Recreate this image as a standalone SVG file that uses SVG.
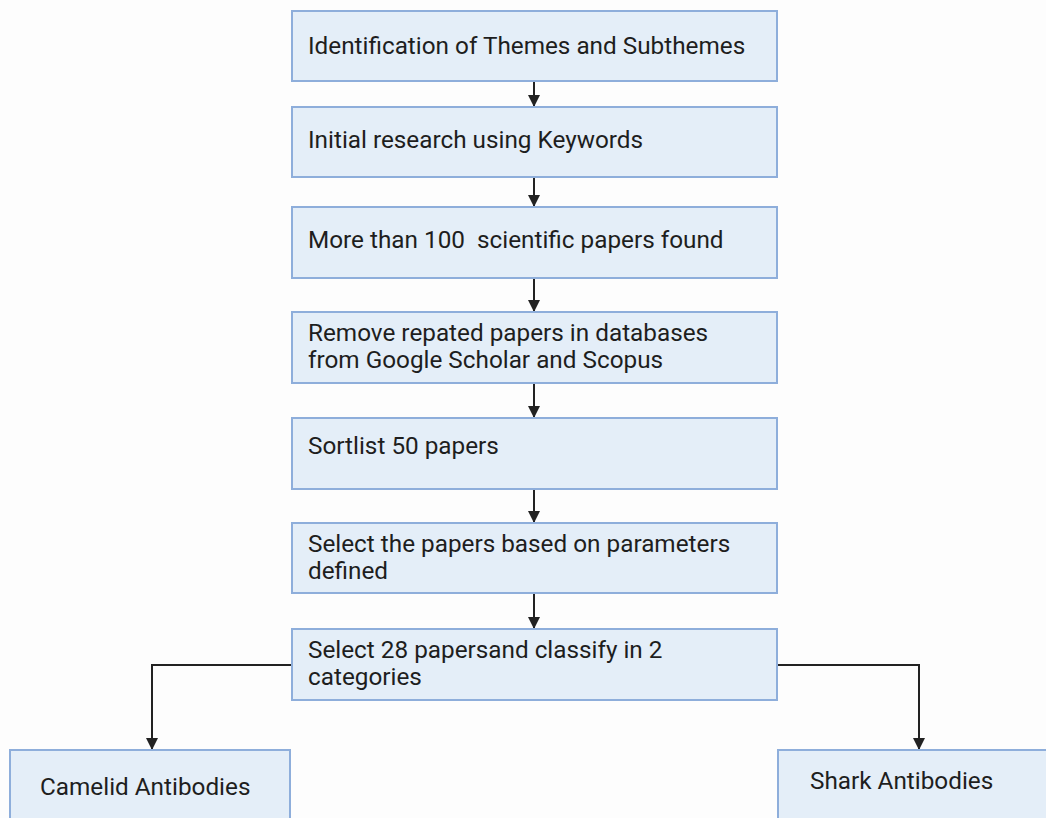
<svg xmlns="http://www.w3.org/2000/svg" width="1046" height="818" viewBox="0 0 1046 818">
<style>
.box{fill:#e4eef8;stroke:#8eaedb;stroke-width:2}
.t{font-family:Roboto,"Liberation Sans",sans-serif;font-size:24.3px;fill:#1e1e1e;white-space:pre}
.c{fill:none;stroke:#222;stroke-width:2}
</style>
<defs>
<marker id="ah" markerWidth="13" markerHeight="12" refX="12" refY="6" orient="auto" markerUnits="userSpaceOnUse">
<path d="M0,0 L12,6 L0,12 Z" fill="#222"/>
</marker>
</defs>
<rect width="1046" height="818" fill="#fdfdfd"/>
<g id="connectors">
<line class="c" x1="534" y1="81" x2="534" y2="107" marker-end="url(#ah)"/>
<line class="c" x1="534" y1="177" x2="534" y2="207" marker-end="url(#ah)"/>
<line class="c" x1="534" y1="278" x2="534" y2="312" marker-end="url(#ah)"/>
<line class="c" x1="534" y1="383" x2="534" y2="418" marker-end="url(#ah)"/>
<line class="c" x1="534" y1="489" x2="534" y2="523" marker-end="url(#ah)"/>
<line class="c" x1="534" y1="593" x2="534" y2="629" marker-end="url(#ah)"/>
<polyline class="c" points="292,665 152,665 152,750" marker-end="url(#ah)"/>
<polyline class="c" points="777,665 919,665 919,750" marker-end="url(#ah)"/>
</g>
<g id="n1"><rect class="box" x="292" y="11" width="485" height="70"/><text class="t" x="308" y="54">Identification of Themes and Subthemes</text></g>
<g id="n2"><rect class="box" x="292" y="107" width="485" height="70"/><text class="t" x="308" y="148">Initial research using Keywords</text></g>
<g id="n3"><rect class="box" x="292" y="207" width="485" height="71"/><text class="t" x="308" y="248" xml:space="preserve">More than 100  scientific papers found</text></g>
<g id="n4"><rect class="box" x="292" y="312" width="485" height="71"/><text class="t" x="308" y="341">Remove repated papers in databases</text><text class="t" x="308" y="368">from Google Scholar and Scopus</text></g>
<g id="n5"><rect class="box" x="292" y="418" width="485" height="71"/><text class="t" x="308" y="454">Sortlist 50 papers</text></g>
<g id="n6"><rect class="box" x="292" y="523" width="485" height="70"/><text class="t" x="308" y="552">Select the papers based on parameters</text><text class="t" x="308" y="579">defined</text></g>
<g id="n7"><rect class="box" x="292" y="629" width="485" height="71"/><text class="t" x="308" y="658">Select 28 papersand classify in 2</text><text class="t" x="308" y="685">categories</text></g>
<g id="n8"><rect class="box" x="10" y="750" width="280" height="90"/><text class="t" x="40" y="795">Camelid Antibodies</text></g>
<g id="n9"><rect class="box" x="778" y="750" width="290" height="90"/><text class="t" x="810" y="789">Shark Antibodies</text></g>
</svg>
